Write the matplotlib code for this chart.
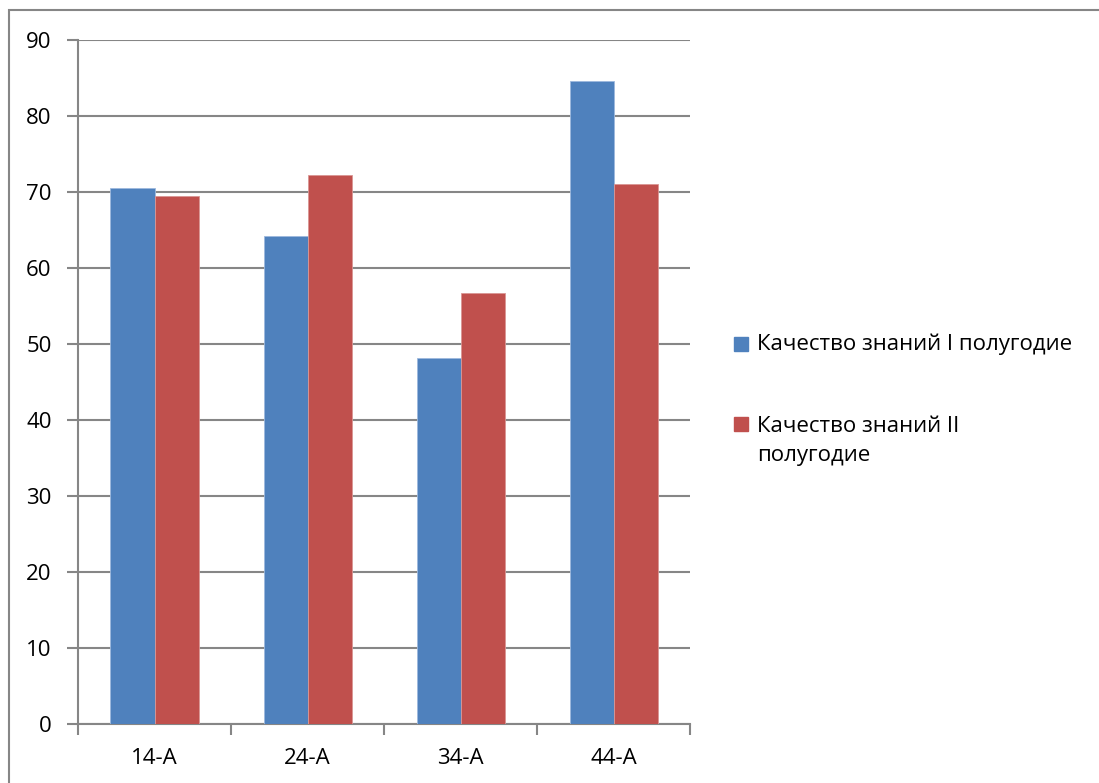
import matplotlib.pyplot as plt
from matplotlib.patches import Rectangle
import numpy as np

# data
classes = ["14-А", "24-А", "34-А", "44-А"]
sem1 = [70.5, 64.2, 48.2, 84.6]
sem2 = [69.5, 72.2, 56.7, 71.0]
labels = ["Качество знаний I полугодие", "Качество знаний II\nполугодие"]

blue = "#4F81BD"
red = "#C0504D"
grey = "#868686"

plt.rcParams["font.family"] = ["Open Sans", "DejaVu Sans"]

W, H = 1099, 783
fig = plt.figure(figsize=(W / 100, H / 100), dpi=100)
ax = fig.add_axes([0.071, 0.0754, 0.557, 0.8735])

x = np.arange(len(classes))
w = 0.288
ax.bar(x - w / 2, sem1, w, color=blue, edgecolor="#9DB9DE", linewidth=0.6, zorder=3)
ax.bar(x + w / 2, sem2, w, color=red, edgecolor="#DA9694", linewidth=0.6, zorder=3)

ax.set_xlim(-0.5, len(classes) - 0.5)
ax.set_ylim(0, 90)
ax.set_yticks(range(0, 91, 10))
ax.yaxis.grid(True, color=grey, linewidth=1.5, zorder=0)

ax.set_xticks(x)
ax.set_xticklabels(classes)
ax.set_xticks(np.arange(-0.5, len(classes)), minor=True)
ax.tick_params(axis="x", which="major", length=0, pad=17, labelsize=16)
ax.tick_params(axis="x", which="minor", length=8, width=1.5, color=grey)
ax.tick_params(axis="y", length=8, width=1.5, color=grey, pad=11, labelsize=16)

for s in ["top", "right"]:
    ax.spines[s].set_visible(False)
for s in ["left", "bottom"]:
    ax.spines[s].set_color(grey)
    ax.spines[s].set_linewidth(1.5)

# legend drawn by hand so the red square lines up with the first text line
sq = 14
entries = [(344, 344), (424, 441)]  # (square centre y, text centre y) in pixels
for (sy, ty), lab, col in zip(entries, labels, [blue, red]):
    fig.patches.append(Rectangle((734 / W, 1 - (sy + sq / 2) / H), sq / W, sq / H,
                                 transform=fig.transFigure, color=col))
    fig.text(757 / W, 1 - ty / H, lab, fontsize=16, va="center", ha="left",
             linespacing=1.5)

# outer chart frame
fig.patches.append(Rectangle((9 / W, -0.1), 1.2, (H - 10) / H + 0.1,
                             transform=fig.transFigure, fill=False,
                             edgecolor=grey, linewidth=1.5))

plt.savefig("out.png", dpi=100)
